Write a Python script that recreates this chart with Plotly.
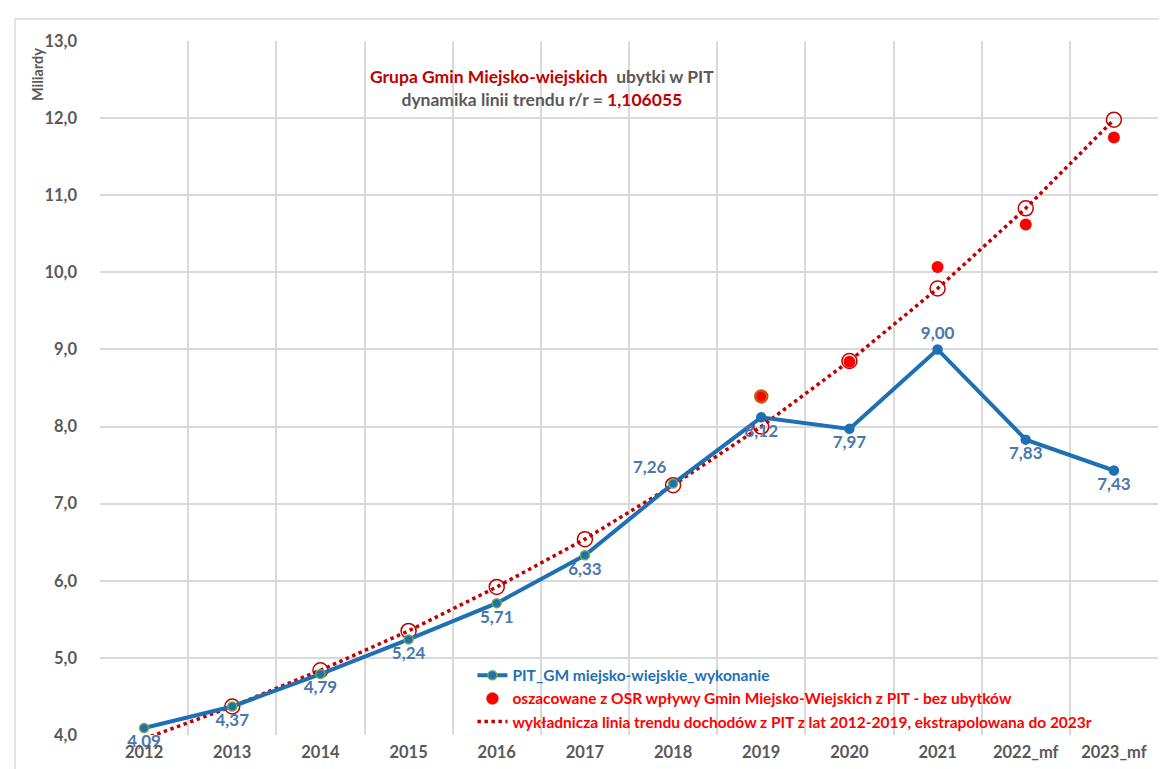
import plotly.graph_objects as go

years = ["2012", "2013", "2014", "2015", "2016", "2017", "2018", "2019", "2020", "2021", "2022_mf", "2023_mf"]
pit_wykonanie = [4.09, 4.37, 4.79, 5.24, 5.71, 6.33, 7.26, 8.12, 7.97, 9.00, 7.83, 7.43]
osr_years = ["2019", "2020", "2021", "2022_mf", "2023_mf"]
osr_values = [8.39, 8.84, 10.07, 10.62, 11.75]
trend_values = [3.95, 4.37, 4.84, 5.35, 5.92, 6.54, 7.24, 8.00, 8.85, 9.79, 10.83, 11.98]
label_pos = ["bottom center", "bottom center", "bottom center", "bottom center", "bottom center",
             "bottom center", "top left", "bottom center", "bottom center", "top center",
             "bottom center", "bottom center"]

FONT = "Lato"
GRAY = "#595959"
BLUE = "#1F6FB5"
LABEL_BLUE = "#4A77AD"
DARKRED = "#C00000"
RED = "#FF0000"

fig = go.Figure()

# trend line (dotted)
fig.add_trace(go.Scatter(
    x=years, y=trend_values, mode="lines",
    line=dict(color=DARKRED, width=3.5, dash="dot"),
    name=f"<span style='color:{RED}'>wykładnicza linia trendu dochodów z PIT z lat 2012-2019, ekstrapolowana do 2023r</span>",
    legendrank=3,
))
# trend markers
fig.add_trace(go.Scatter(
    x=years[1:], y=trend_values[1:], mode="markers",
    marker=dict(symbol="circle-open", size=15, color=DARKRED, line=dict(color=DARKRED, width=1.5)),
    showlegend=False,
))
# blue series
marker_line_colors = ["#70AD47"] * 7 + [BLUE] * 5
fig.add_trace(go.Scatter(
    x=years, y=pit_wykonanie, mode="lines+markers+text",
    line=dict(color=BLUE, width=4),
    marker=dict(size=9, color=BLUE, line=dict(color=marker_line_colors, width=1.5)),
    text=pit_wykonanie, texttemplate="%{y:.2f}", textposition=label_pos,
    textfont=dict(family=FONT, size=17, color=LABEL_BLUE, weight="bold"),
    cliponaxis=False,
    name=f"<span style='color:{BLUE}'>PIT_GM miejsko-wiejskie_wykonanie</span>",
    legendrank=1,
))
# OSR red dots
fig.add_trace(go.Scatter(
    x=osr_years, y=osr_values, mode="markers",
    marker=dict(size=12, color=RED,
                line=dict(color=["#C55A11", RED, RED, RED, RED], width=[2.5, 0, 0, 0, 0])),
    name=f"<span style='color:{RED}'>oszacowane z OSR wpływy Gmin Miejsko-Wiejskich z PIT - bez ubytków</span>",
    legendrank=2,
))

fig.update_layout(
    width=1167, height=769,
    margin=dict(l=92, r=17, t=33, b=42),
    paper_bgcolor="white", plot_bgcolor="white",
    separators=", ",
    font=dict(family=FONT, color=GRAY),
    showlegend=True,
    legend=dict(
        x=0.352, y=0.11, xanchor="left", yanchor="top",
        bgcolor="rgba(0,0,0,0)",
        font=dict(family=FONT, size=15.5, weight="bold"),
        tracegroupgap=0, itemwidth=30,
    ),
    xaxis=dict(
        type="category", tickson="boundaries",
        showgrid=True, gridcolor="#D9D9D9", gridwidth=1.5,
        ticks="", showline=False, zeroline=False,
        tickfont=dict(family=FONT, size=16.5, color=GRAY, weight="bold"),
        ticklabelstandoff=5,
        range=[-0.5, 11.5],
    ),
    yaxis=dict(
        range=[4.0, 13.0], dtick=1.0, tickformat=".1f",
        showgrid=True, gridcolor="#D9D9D9", gridwidth=1.5,
        zeroline=False, showline=False, ticks="",
        tickfont=dict(family=FONT, size=16.5, color=GRAY, weight="bold"),
        ticklabelstandoff=22,
    ),
    annotations=[
        dict(xref="paper", yref="paper", x=0.418, y=0.932, xanchor="center", yanchor="middle",
             showarrow=False, align="center",
             font=dict(family=FONT, size=17.5, color=GRAY, weight="bold"),
             text=f"<span style='color:{DARKRED}'>Grupa Gmin Miejsko-wiejskich</span>  ubytki w PIT<br>"
                  f"dynamika linii trendu r/r = <span style='color:{DARKRED}'>1,106055</span>"),
        dict(xref="paper", yref="paper", x=-0.0595, y=0.951, xanchor="center", yanchor="middle",
             showarrow=False, textangle=-90,
             font=dict(family=FONT, size=14.5, color=GRAY, weight="bold"),
             text="Miliardy"),
    ],
    shapes=[
        dict(type="rect", xref="paper", yref="paper", x0=-0.0803, y0=-0.2, x1=1.2, y1=1.0317,
             line=dict(color="#D9D9D9", width=1.5), fillcolor="rgba(0,0,0,0)", layer="below"),
    ],
)

fig.write_html("out.html")
